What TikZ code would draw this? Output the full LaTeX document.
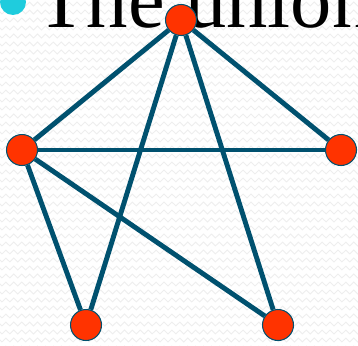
\documentclass[tikz,border=0pt]{standalone}
\usepackage{fontspec}
\setmainfont{Liberation Serif}
\usepackage{tikz}
\usetikzlibrary{decorations.pathmorphing}
\definecolor{Edge}{HTML}{00516F}
\definecolor{Vertex}{HTML}{FF3300}
\definecolor{Bullet}{HTML}{1FCCDD}
\definecolor{Wave}{HTML}{EEEEEE}

\begin{document}
\begin{tikzpicture}[x=0.02cm,y=-0.02cm,
  vertex/.style={circle,draw=Edge,fill=Vertex,line width=0.6pt,
    minimum size=0.62cm,inner sep=0pt},
  edge/.style={Edge,line width=2.8pt},
  wave/.style={Wave,line width=0.5pt,decorate,
    decoration={zigzag,segment length=4.5pt,amplitude=1.1pt}}]
  \useasboundingbox (0,0) rectangle (358,345);
  \clip (0,0) rectangle (358,345);
  \fill[white] (0,0) rectangle (358,345);
  \foreach \y in {4,12,...,348}
    \draw[wave] (-4,\y)--(362,\y);

  \fill[Bullet] (13,2) circle (0.26cm);
  \node[anchor=base west,inner sep=0pt,font=\fontsize{47}{47}\selectfont]
    (title) at (36,27) {The union};

  \node[vertex] (a) at (181,20) {};
  \node[vertex] (b) at (22,150) {};
  \node[vertex] (c) at (341,150) {};
  \node[vertex] (d) at (86,325) {};
  \node[vertex] (e) at (278,325) {};
  \draw[edge] (a)--(b);
  \draw[edge] (a)--(c);
  \draw[edge] (b)--(c);
  \draw[edge] (a)--(d);
  \draw[edge] (a)--(e);
  \draw[edge] (b)--(d);
  \draw[edge] (b)--(e);
\end{tikzpicture}
\end{document}
